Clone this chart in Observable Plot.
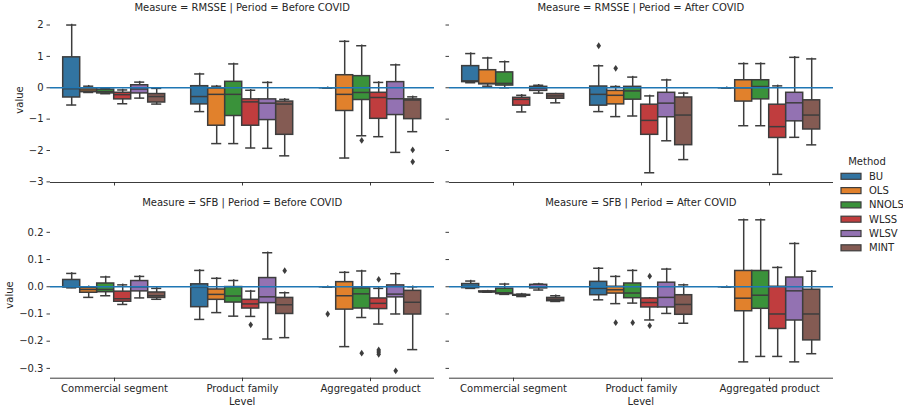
<!DOCTYPE html>
<html><head><meta charset="utf-8">
<script src="https://cdn.jsdelivr.net/npm/d3@7"></script>
<script src="https://cdn.jsdelivr.net/npm/@observablehq/plot@0.6"></script>
<style>
body{margin:0;background:#fff;font-family:"DejaVu Sans",sans-serif;}
#chart{position:relative;width:903px;height:409px;overflow:hidden;background:#fff;}
#chart svg.pl{position:absolute;left:0;top:0;}
.lbl{position:absolute;font-size:10px;color:#262626;white-space:nowrap;line-height:10px;font-family:"DejaVu Sans",sans-serif;}
</style></head><body><div id="chart"></div>
<script>
const levels = ["Commercial segment", "Product family", "Aggregated product"];
const methods = ["BU", "OLS", "NNOLS", "WLSS", "WLSV", "MINT"];
const colors = ["#3274a1", "#e1812c", "#3a923a", "#c03d3e", "#9372b2", "#845b53"];
const [CS, PF, AP] = levels;

// rows: level, method, whisker low, q1, median, q3, whisker high
const rmsseBefore = [
  [CS,"BU",-0.55,-0.31,-0.03,0.97,2.0],[CS,"OLS",-0.15,-0.14,-0.07,-0.02,0.05],[CS,"NNOLS",-0.19,-0.18,-0.12,-0.06,-0.02],
  [CS,"WLSS",-0.51,-0.37,-0.22,-0.16,-0.07],[CS,"WLSV",-0.33,-0.18,-0.04,0.08,0.18],[CS,"MINT",-0.52,-0.47,-0.28,-0.2,-0.02],
  [PF,"BU",-0.76,-0.53,-0.28,0.05,0.44],[PF,"OLS",-1.78,-1.21,-0.21,-0.02,0.05],[PF,"NNOLS",-1.78,-0.9,-0.21,0.19,0.76],
  [PF,"WLSS",-1.92,-1.21,-0.45,-0.37,-0.08],[PF,"WLSV",-1.93,-1.03,-0.49,-0.37,0.17],[PF,"MINT",-2.17,-1.5,-0.52,-0.44,-0.37],
  [AP,"BU",0,0,0,0,0],[AP,"OLS",-2.24,-0.74,-0.21,0.4,1.48],[AP,"NNOLS",-1.53,-0.39,-0.15,0.37,1.34],
  [AP,"WLSS",-1.56,-0.99,-0.31,-0.16,0.17],[AP,"WLSV",-2.06,-0.87,-0.35,0.18,0.73],[AP,"MINT",-1.4,-1.0,-0.39,-0.37,-0.29]
];
const rmsseBeforeOut = [[AP,"NNOLS",-1.68],[AP,"MINT",-1.98],[AP,"MINT",-2.36]];

const rmsseAfter = [
  [CS,"BU",0.16,0.18,0.22,0.69,1.09],[CS,"OLS",0.05,0.11,0.14,0.56,0.95],[CS,"NNOLS",0.0,0.07,0.14,0.49,0.83],
  [CS,"WLSS",-0.77,-0.57,-0.37,-0.32,-0.24],[CS,"WLSV",-0.17,-0.1,-0.02,0.03,0.08],[CS,"MINT",-0.48,-0.35,-0.26,-0.2,-0.2],
  [PF,"BU",-0.76,-0.57,-0.21,0.04,0.7],[PF,"OLS",-0.92,-0.53,-0.24,-0.1,0.04],[PF,"NNOLS",-0.9,-0.38,-0.1,0.03,0.34],
  [PF,"WLSS",-2.71,-1.5,-1.04,-0.54,-0.26],[PF,"WLSV",-1.69,-0.94,-0.49,-0.16,0.25],[PF,"MINT",-2.29,-1.83,-0.87,-0.31,-0.17],
  [AP,"BU",0,0,0,0,0],[AP,"OLS",-1.21,-0.44,0.0,0.24,0.77],[AP,"NNOLS",-1.21,-0.37,0.04,0.24,0.77],
  [AP,"WLSS",-2.76,-1.6,-1.24,-0.54,0.06],[AP,"WLSV",-1.58,-1.07,-0.48,-0.16,0.97],[AP,"MINT",-1.82,-1.33,-0.87,-0.4,0.92]
];
const rmsseAfterOut = [[PF,"BU",1.34],[PF,"OLS",0.62]];

const sfbBefore = [
  [CS,"BU",-0.004,-0.002,0.0,0.025,0.049],[CS,"OLS",-0.039,-0.022,-0.01,-0.004,0.0],[CS,"NNOLS",-0.033,-0.02,-0.01,0.012,0.036],
  [CS,"WLSS",-0.065,-0.055,-0.044,-0.018,0.007],[CS,"WLSV",-0.041,-0.017,0.0,0.021,0.038],[CS,"MINT",-0.046,-0.041,-0.033,-0.021,-0.006],
  [PF,"BU",-0.12,-0.075,-0.002,0.009,0.06],[PF,"OLS",-0.095,-0.048,-0.028,-0.01,0.031],[PF,"NNOLS",-0.108,-0.058,-0.034,-0.001,0.023],
  [PF,"WLSS",-0.109,-0.08,-0.063,-0.048,-0.016],[PF,"WLSV",-0.192,-0.06,-0.037,0.032,0.125],[PF,"MINT",-0.187,-0.1,-0.066,-0.041,-0.022],
  [AP,"BU",0,0,0,0,0],[AP,"OLS",-0.22,-0.084,-0.033,0.017,0.053],[AP,"NNOLS",-0.113,-0.08,-0.026,-0.006,0.058],
  [AP,"WLSS",-0.137,-0.082,-0.061,-0.043,-0.006],[AP,"WLSV",-0.1,-0.039,-0.027,0.005,0.048],[AP,"MINT",-0.231,-0.102,-0.057,-0.015,0.0]
];
const sfbBeforeOut = [[PF,"WLSS",-0.14],[PF,"MINT",0.059],[AP,"BU",-0.1],[AP,"NNOLS",-0.244],
  [AP,"WLSS",0.027],[AP,"WLSS",-0.232],[AP,"WLSS",-0.24],[AP,"WLSS",-0.248],[AP,"WLSV",-0.309]];

const sfbAfter = [
  [CS,"BU",-0.006,-0.005,0.001,0.01,0.021],[CS,"OLS",-0.02,-0.02,-0.019,-0.017,-0.016],[CS,"NNOLS",-0.028,-0.027,-0.022,-0.007,0.01],
  [CS,"WLSS",-0.036,-0.033,-0.031,-0.03,-0.027],[CS,"WLSV",-0.012,-0.006,0.0,0.007,0.01],[CS,"MINT",-0.054,-0.053,-0.046,-0.041,-0.033],
  [PF,"BU",-0.048,-0.031,-0.006,0.018,0.068],[PF,"OLS",-0.062,-0.025,-0.011,0.0,0.038],[PF,"NNOLS",-0.06,-0.042,-0.023,0.012,0.06],
  [PF,"WLSS",-0.122,-0.076,-0.058,-0.043,-0.043],[PF,"WLSV",-0.098,-0.076,-0.039,0.015,0.065],[PF,"MINT",-0.134,-0.103,-0.065,-0.031,0.007],
  [AP,"BU",0,0,0,0,0],[AP,"OLS",-0.276,-0.09,-0.042,0.058,0.246],[AP,"NNOLS",-0.256,-0.081,-0.031,0.058,0.246],
  [AP,"WLSS",-0.256,-0.155,-0.1,0.0,0.071],[AP,"WLSV",-0.276,-0.124,-0.015,0.034,0.159],[AP,"MINT",-0.246,-0.197,-0.1,-0.011,0.057]
];
const sfbAfterOut = [[PF,"OLS",-0.132],[PF,"NNOLS",-0.132],[PF,"WLSS",0.039],[PF,"WLSS",-0.143]];

const rmsseDomain = [-3.02, 2.24];
const rmsseTicks = [-3, -2, -1, 0, 1, 2];
const sfbDomain = [-0.336, 0.274];
const sfbTicks = [-0.3, -0.2, -0.1, 0, 0.1, 0.2];

const W = 903, H = 409;
const gray = "#3d3d3d", ink = "#262626";
const thinDiamond = {
  draw(context, size) {
    const r = Math.sqrt(size / Math.PI), w = r * 0.68;
    context.moveTo(0, -r); context.lineTo(w, 0); context.lineTo(0, r); context.lineTo(-w, 0); context.closePath();
  }
};

function panel(rows, outRows, yDomain, yTicks, yFmt, frame, showY, showX) {
  const data = rows.map(([level, method, wlo, q1, med, q3, whi]) => ({level, method, wlo, q1, med, q3, whi}));
  const outs = outRows.map(([level, method, value]) => ({level, method, value}));
  const [L, T, R, B] = frame;
  const common = {fx: "level", x: "method", stroke: gray, strokeWidth: 1.5, strokeLinecap: "square"};
  const svg = Plot.plot({
    width: W, height: H,
    marginLeft: L, marginTop: T, marginRight: W - R, marginBottom: H - B,
    style: {background: "transparent", fontFamily: "DejaVu Sans", fontSize: "10px", color: ink, overflow: "visible"},
    fx: {domain: levels, padding: 0},
    x: {domain: methods, paddingInner: 0.02, paddingOuter: 0.76, align: 0.5, axis: null},
    y: {domain: yDomain},
    color: {domain: methods, range: colors},
    marks: [
      Plot.ruleY([yDomain[0]], {stroke: ink, strokeWidth: 0.9}),
      Plot.axisY({ticks: yTicks, tickSize: 3.5, tickPadding: 3.5, strokeWidth: 0.9, line: true,
        tickFormat: showY ? yFmt : () => "", label: null}),
      Plot.axisFx({anchor: "bottom", tickSize: 3.5, tickPadding: 3.5, strokeWidth: 0.9,
        tickFormat: showX ? (d => d) : () => "", label: null}),
      Plot.ruleX(data, {...common, y1: "wlo", y2: "whi"}),
      Plot.tickY(data, {...common, y: "wlo", insetLeft: 4.2, insetRight: 4.2}),
      Plot.tickY(data, {...common, y: "whi", insetLeft: 4.2, insetRight: 4.2}),
      Plot.barY(data, {...common, strokeLinecap: null, y1: "q1", y2: "q3", fill: "method"}),
      Plot.tickY(data, {...common, y: "med", strokeLinecap: "butt"}),
      Plot.dot(outs, {fx: "level", x: "method", y: "value", symbol: thinDiamond, r: 3.4, fill: gray, stroke: "none"}),
      Plot.ruleY([0], {stroke: "#1f77b4", strokeWidth: 1.5})
    ]
  });
  svg.classList.add("pl");
  return svg;
}

const chart = document.getElementById("chart");
const fmtInt = d3.format(".0f"), fmt1 = d3.format(".1f");
const topY = [17, 182], botY = [211.7, 377.7];
const leftX = [49.3, 435], rightX = [448.3, 833.3];
chart.appendChild(panel(rmsseBefore, rmsseBeforeOut, rmsseDomain, rmsseTicks, fmtInt, [leftX[0], topY[0], leftX[1], topY[1]], true, false));
chart.appendChild(panel(rmsseAfter, rmsseAfterOut, rmsseDomain, rmsseTicks, fmtInt, [rightX[0], topY[0], rightX[1], topY[1]], false, false));
chart.appendChild(panel(sfbBefore, sfbBeforeOut, sfbDomain, sfbTicks, fmt1, [leftX[0], botY[0], leftX[1], botY[1]], true, true));
chart.appendChild(panel(sfbAfter, sfbAfterOut, sfbDomain, sfbTicks, fmt1, [rightX[0], botY[0], rightX[1], botY[1]], false, true));

function label(text, x, y, rotate) {
  const d = document.createElement("div");
  d.className = "lbl";
  d.textContent = text;
  d.style.left = x + "px"; d.style.top = y + "px";
  d.style.transform = "translate(-50%,-50%)" + (rotate ? " rotate(-90deg)" : "");
  chart.appendChild(d);
}
const cxL = (leftX[0] + leftX[1]) / 2, cxR = (rightX[0] + rightX[1]) / 2;
label("Measure = RMSSE | Period = Before COVID", cxL, 8);
label("Measure = RMSSE | Period = After COVID", cxR, 8);
label("Measure = SFB | Period = Before COVID", cxL, 203.3);
label("Measure = SFB | Period = After COVID", cxR, 203.3);
label("value", 20.3, (topY[0] + topY[1]) / 2, true);
label("value", 10.3, (botY[0] + botY[1]) / 2, true);
label("Level", cxL, 402);
label("Level", cxR, 402);

// legend
label("Method", 867, 161.7);
const leg = d3.select(chart).append("svg").attr("class", "pl").attr("width", W).attr("height", H)
  .style("position", "absolute").style("left", 0).style("top", 0);
methods.forEach((m, i) => {
  const y = 176.3 + i * 14.3;
  leg.append("rect").attr("x", 841).attr("y", y - 3).attr("width", 20).attr("height", 6)
    .attr("fill", colors[i]).attr("stroke", gray).attr("stroke-width", 1.2);
  leg.append("text").attr("x", 869).attr("y", y).attr("dy", "0.35em")
    .attr("font-family", "DejaVu Sans").attr("font-size", 10).attr("fill", ink).text(m);
});
</script></body></html>
